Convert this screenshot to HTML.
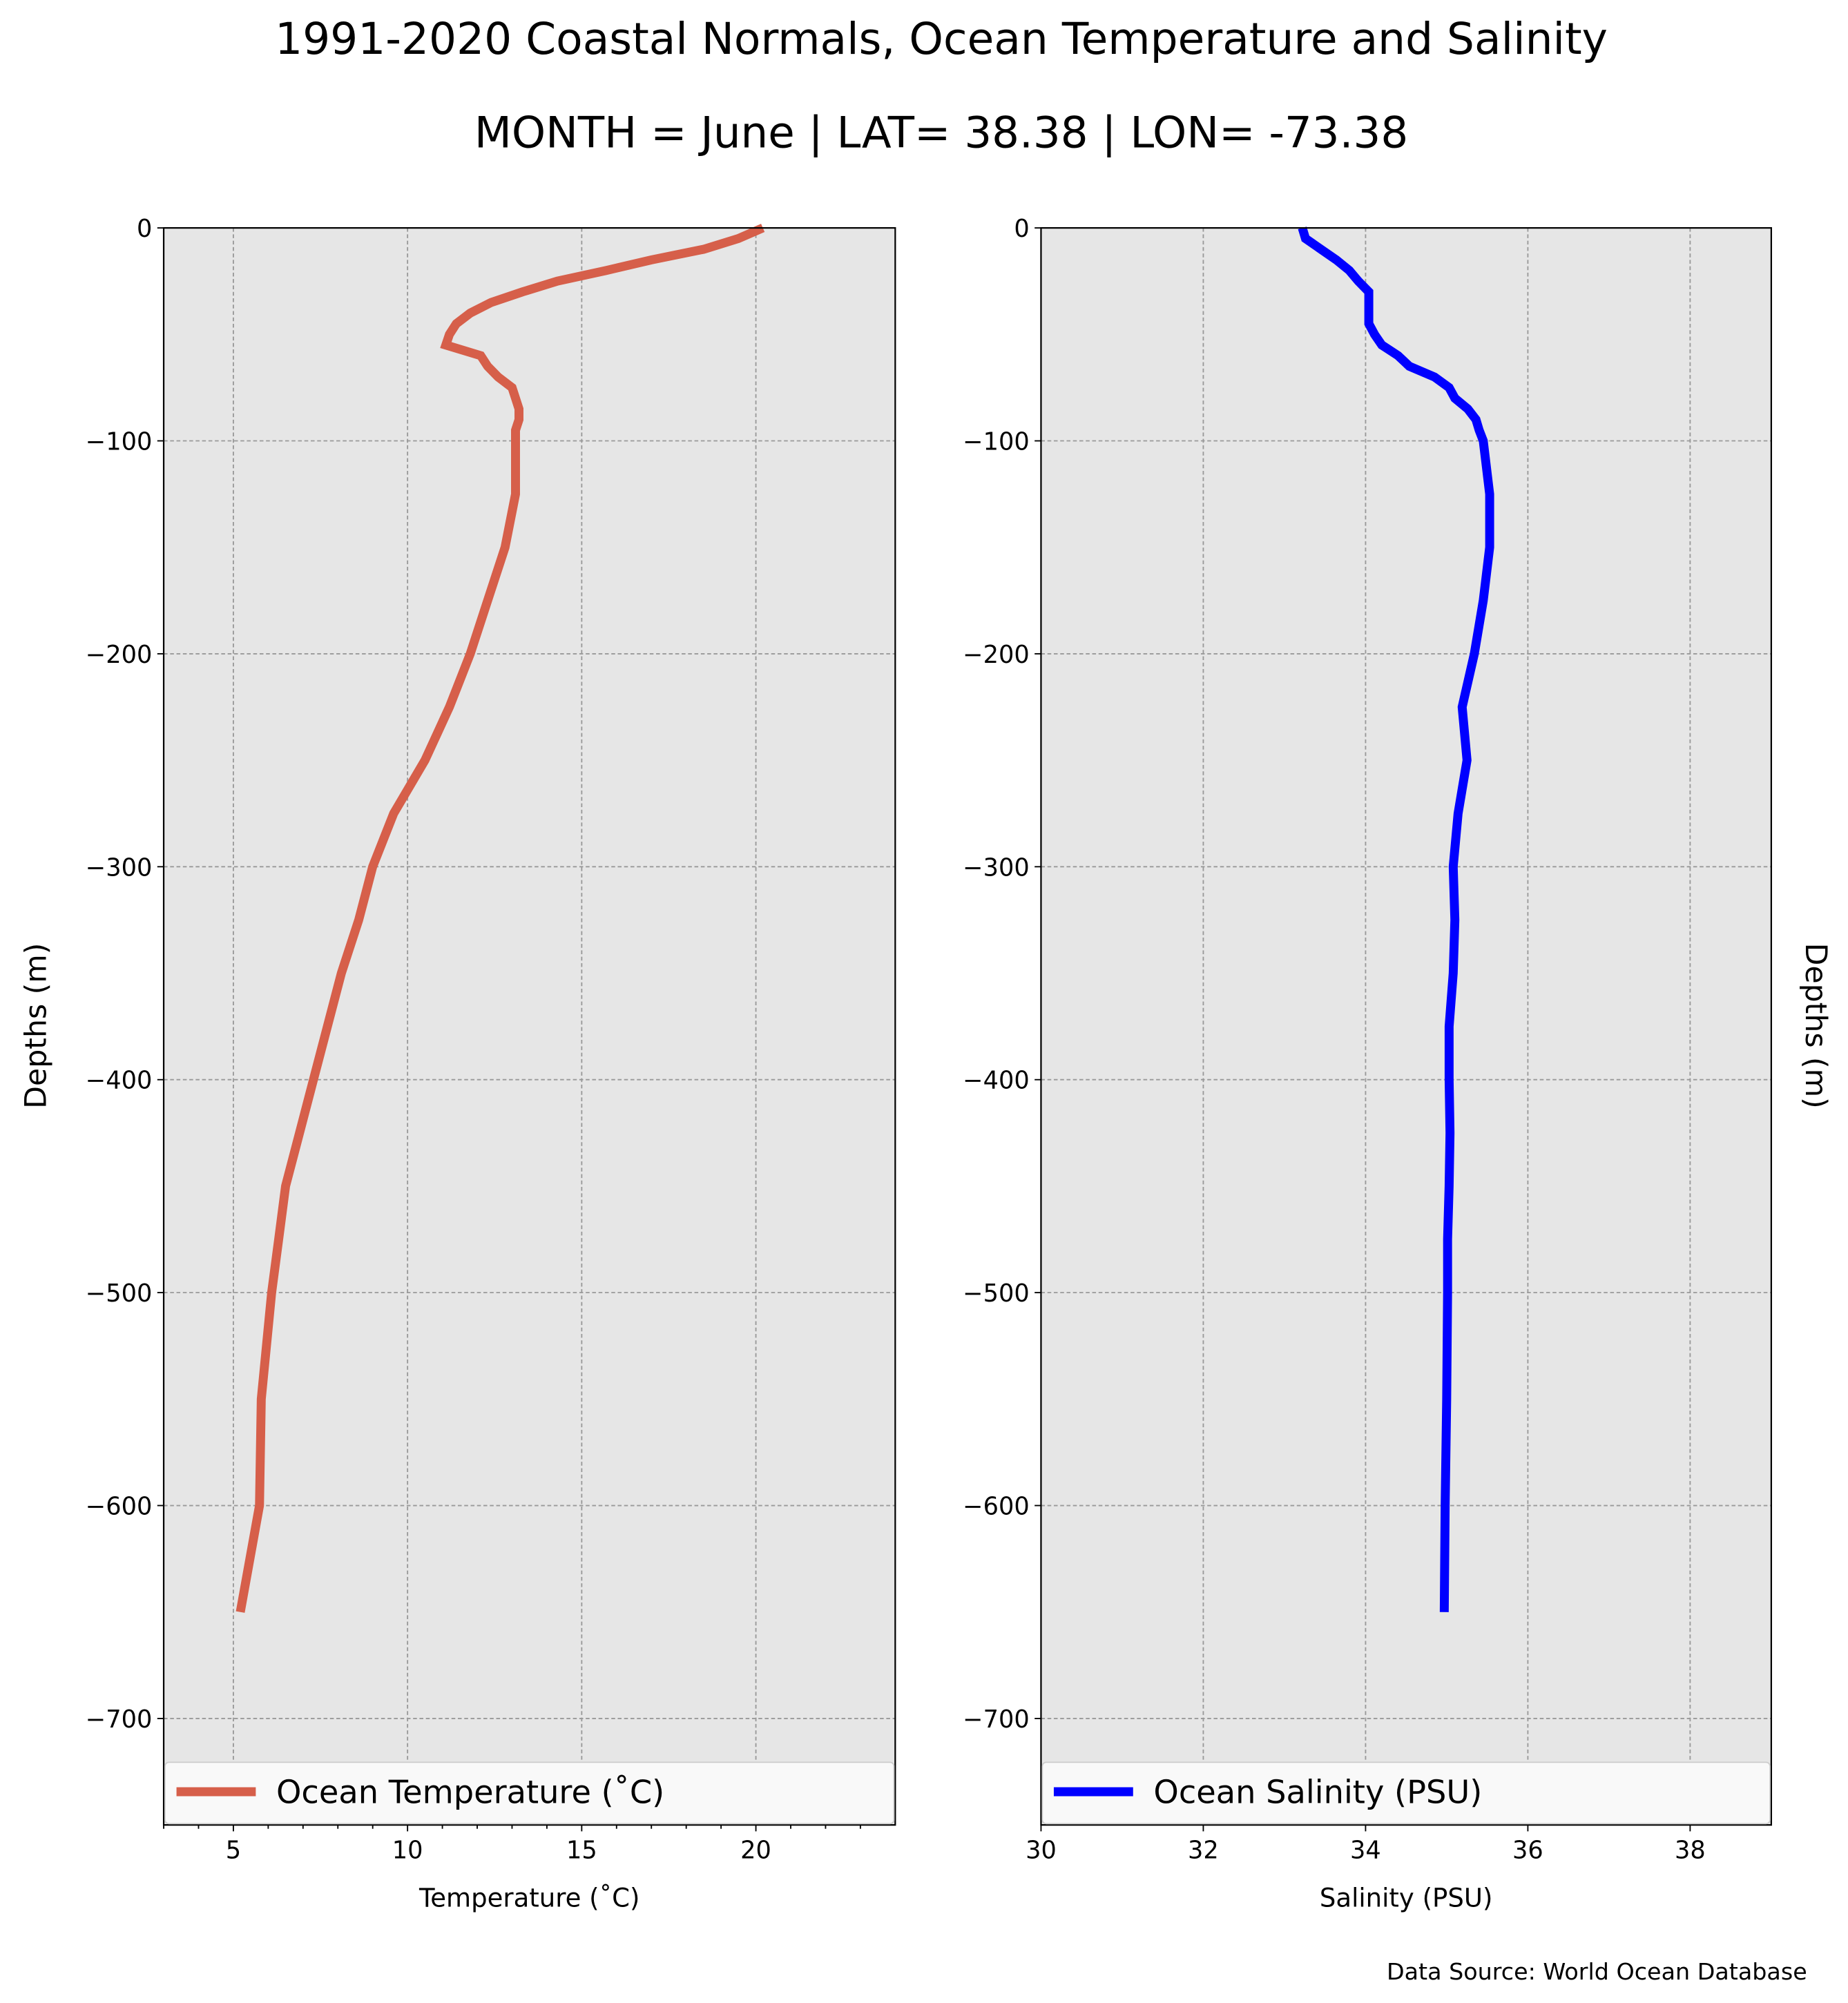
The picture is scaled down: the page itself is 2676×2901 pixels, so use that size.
<!DOCTYPE html>
<html><head><meta charset="utf-8"><style>
html,body{margin:0;padding:0;background:#fff;}
svg{display:block;font-family:"DejaVu Sans","Liberation Sans",sans-serif;}
</style></head><body>
<svg id="fig" width="2676" height="2901" viewBox="0 0 1445 1566" xmlns="http://www.w3.org/2000/svg">
<rect width="1445" height="1566" fill="#fff"/>
<text x="736" y="42" font-size="34" text-anchor="middle">1991-2020 Coastal Normals, Ocean Temperature and Salinity</text>
<text x="736" y="115" font-size="33.8" text-anchor="middle">MONTH = June | LAT= 38.38 | LON= -73.38</text>
<g id="left"></g>
<g id="right"></g>
<text x="1413" y="1548" font-size="18" text-anchor="end">Data Source: World Ocean Database</text>
</svg>
<script>
const depths = [0,-5,-10,-15,-20,-25,-30,-35,-40,-45,-50,-55,-60,-65,-70,-75,-80,-85,-90,-95,-100,-125,-150,-175,-200,-225,-250,-275,-300,-325,-350,-375,-400,-425,-450,-475,-500,-550,-600,-650];
const temperature = [20.2,19.5,18.5,17.0,15.7,14.3,13.3,12.4,11.8,11.4,11.2,11.1,12.1,12.3,12.6,13.0,13.1,13.2,13.2,13.1,13.1,13.1,12.8,12.3,11.8,11.2,10.5,9.6,9.0,8.6,8.1,7.7,7.3,6.9,6.5,6.3,6.1,5.8,5.75,5.2];
const salinity = [33.22,33.26,33.45,33.64,33.8,33.91,34.04,34.04,34.04,34.04,34.11,34.2,34.4,34.54,34.85,35.03,35.1,35.26,35.36,35.4,35.45,35.53,35.53,35.45,35.34,35.19,35.25,35.14,35.08,35.1,35.08,35.03,35.03,35.04,35.03,35.01,35.01,35.0,34.98,34.97];
const yTicks = [0,-100,-200,-300,-400,-500,-600,-700];
const tempTicks = [5,10,15,20];
const salTicks = [30,32,34,36,38];
const NS="http://www.w3.org/2000/svg";
function mk(parent,tag,attrs,text){const e=document.createElementNS(NS,tag);for(const k in attrs)e.setAttribute(k,attrs[k]);if(text!==undefined)e.textContent=text;parent.appendChild(e);return e;}
const yTop=178,yBot=1427;
function yS(d){return yTop+(0-d)/750*(yBot-yTop);}
function panel(g,x0,x1,xmin,xmax,ticks,minor,vals,color,xlabel,legend){
  const xS=v=>x0+(v-xmin)/(xmax-xmin)*(x1-x0);
  const bg=mk(g,'rect',{x:x0,y:yTop,width:x1-x0,height:yBot-yTop,fill:'#e6e6e6'});
  
  
  yTicks.forEach(t=>{const y=yS(t);
    const gl=mk(g,'line',{x1:x0,x2:x1,y1:y,y2:y,stroke:'#999',"stroke-width":1,"stroke-dasharray":"3,2"});
    
    
    mk(g,'line',{x1:x0-5,x2:x0,y1:y,y2:y,stroke:'#000'});
    const lb=mk(g,'text',{x:x0-9,y:y+7,"font-size":19,"text-anchor":"end"},t===0?'0':'\u2212'+Math.abs(t));
    
    
  });
  ticks.forEach(t=>{const x=xS(t);
    const gl=mk(g,'line',{x1:x,x2:x,y1:yTop,y2:yBot,stroke:'#999',"stroke-width":1,"stroke-dasharray":"3,2"});
    
    
    mk(g,'line',{x1:x,x2:x,y1:yBot,y2:yBot+5,stroke:'#000'});
    const lb=mk(g,'text',{x:x,y:yBot+26,"font-size":19,"text-anchor":"middle"},String(t));
    
    
  });
  minor.forEach(t=>{const x=xS(t);mk(g,'line',{x1:x,x2:x,y1:yBot,y2:yBot+3,stroke:'#000'});});
  const pts=depths.map((d,i)=>xS(vals[i]).toFixed(1)+','+yS(d).toFixed(1)).join(' ');
  const ln=mk(g,'polyline',{points:pts,fill:'none',stroke:color,"stroke-width":7,"stroke-linejoin":"miter","stroke-miterlimit":3});
  
  
  const fr=mk(g,'rect',{x:x0,y:yTop,width:x1-x0,height:yBot-yTop,fill:'none',stroke:'#000',"stroke-width":1.2});
  
  
  const lg=mk(g,'g',{});
  
  
  mk(lg,'rect',{x:x0+1,y:1378,width:x1-x0-2,height:48,fill:'#f9f9f9',stroke:'#ccc',"stroke-width":1,rx:3});
  mk(lg,'line',{x1:x0+10,x2:x0+72,y1:1401,y2:1401,stroke:color,"stroke-width":7});
  mk(lg,'text',{x:x0+88,y:1410,"font-size":25},legend);
  const xl=mk(g,'text',{x:(x0+x1)/2,y:1491,"font-size":20,"text-anchor":"middle"},xlabel);
  
  
}
const L=document.getElementById('left'),R=document.getElementById('right');
panel(L,128,700,3,24,tempTicks,[3,4,6,7,8,9,11,12,13,14,16,17,18,19,21,22,23],temperature,'#d65f4a','Temperature (\u02daC)','Ocean Temperature (\u02daC)');
panel(R,814,1385,30,39,salTicks,[],salinity,'#0000ff','Salinity (PSU)','Ocean Salinity (PSU)');
const yl=mk(L,'text',{x:0,y:0,"font-size":23,"text-anchor":"middle",transform:'translate(36,802) rotate(-90)'},'Depths (m)');


const yr=mk(R,'text',{x:0,y:0,"font-size":23,"text-anchor":"middle",transform:'translate(1412,802) rotate(90)'},'Depths (m)');


</script>
</body></html>
